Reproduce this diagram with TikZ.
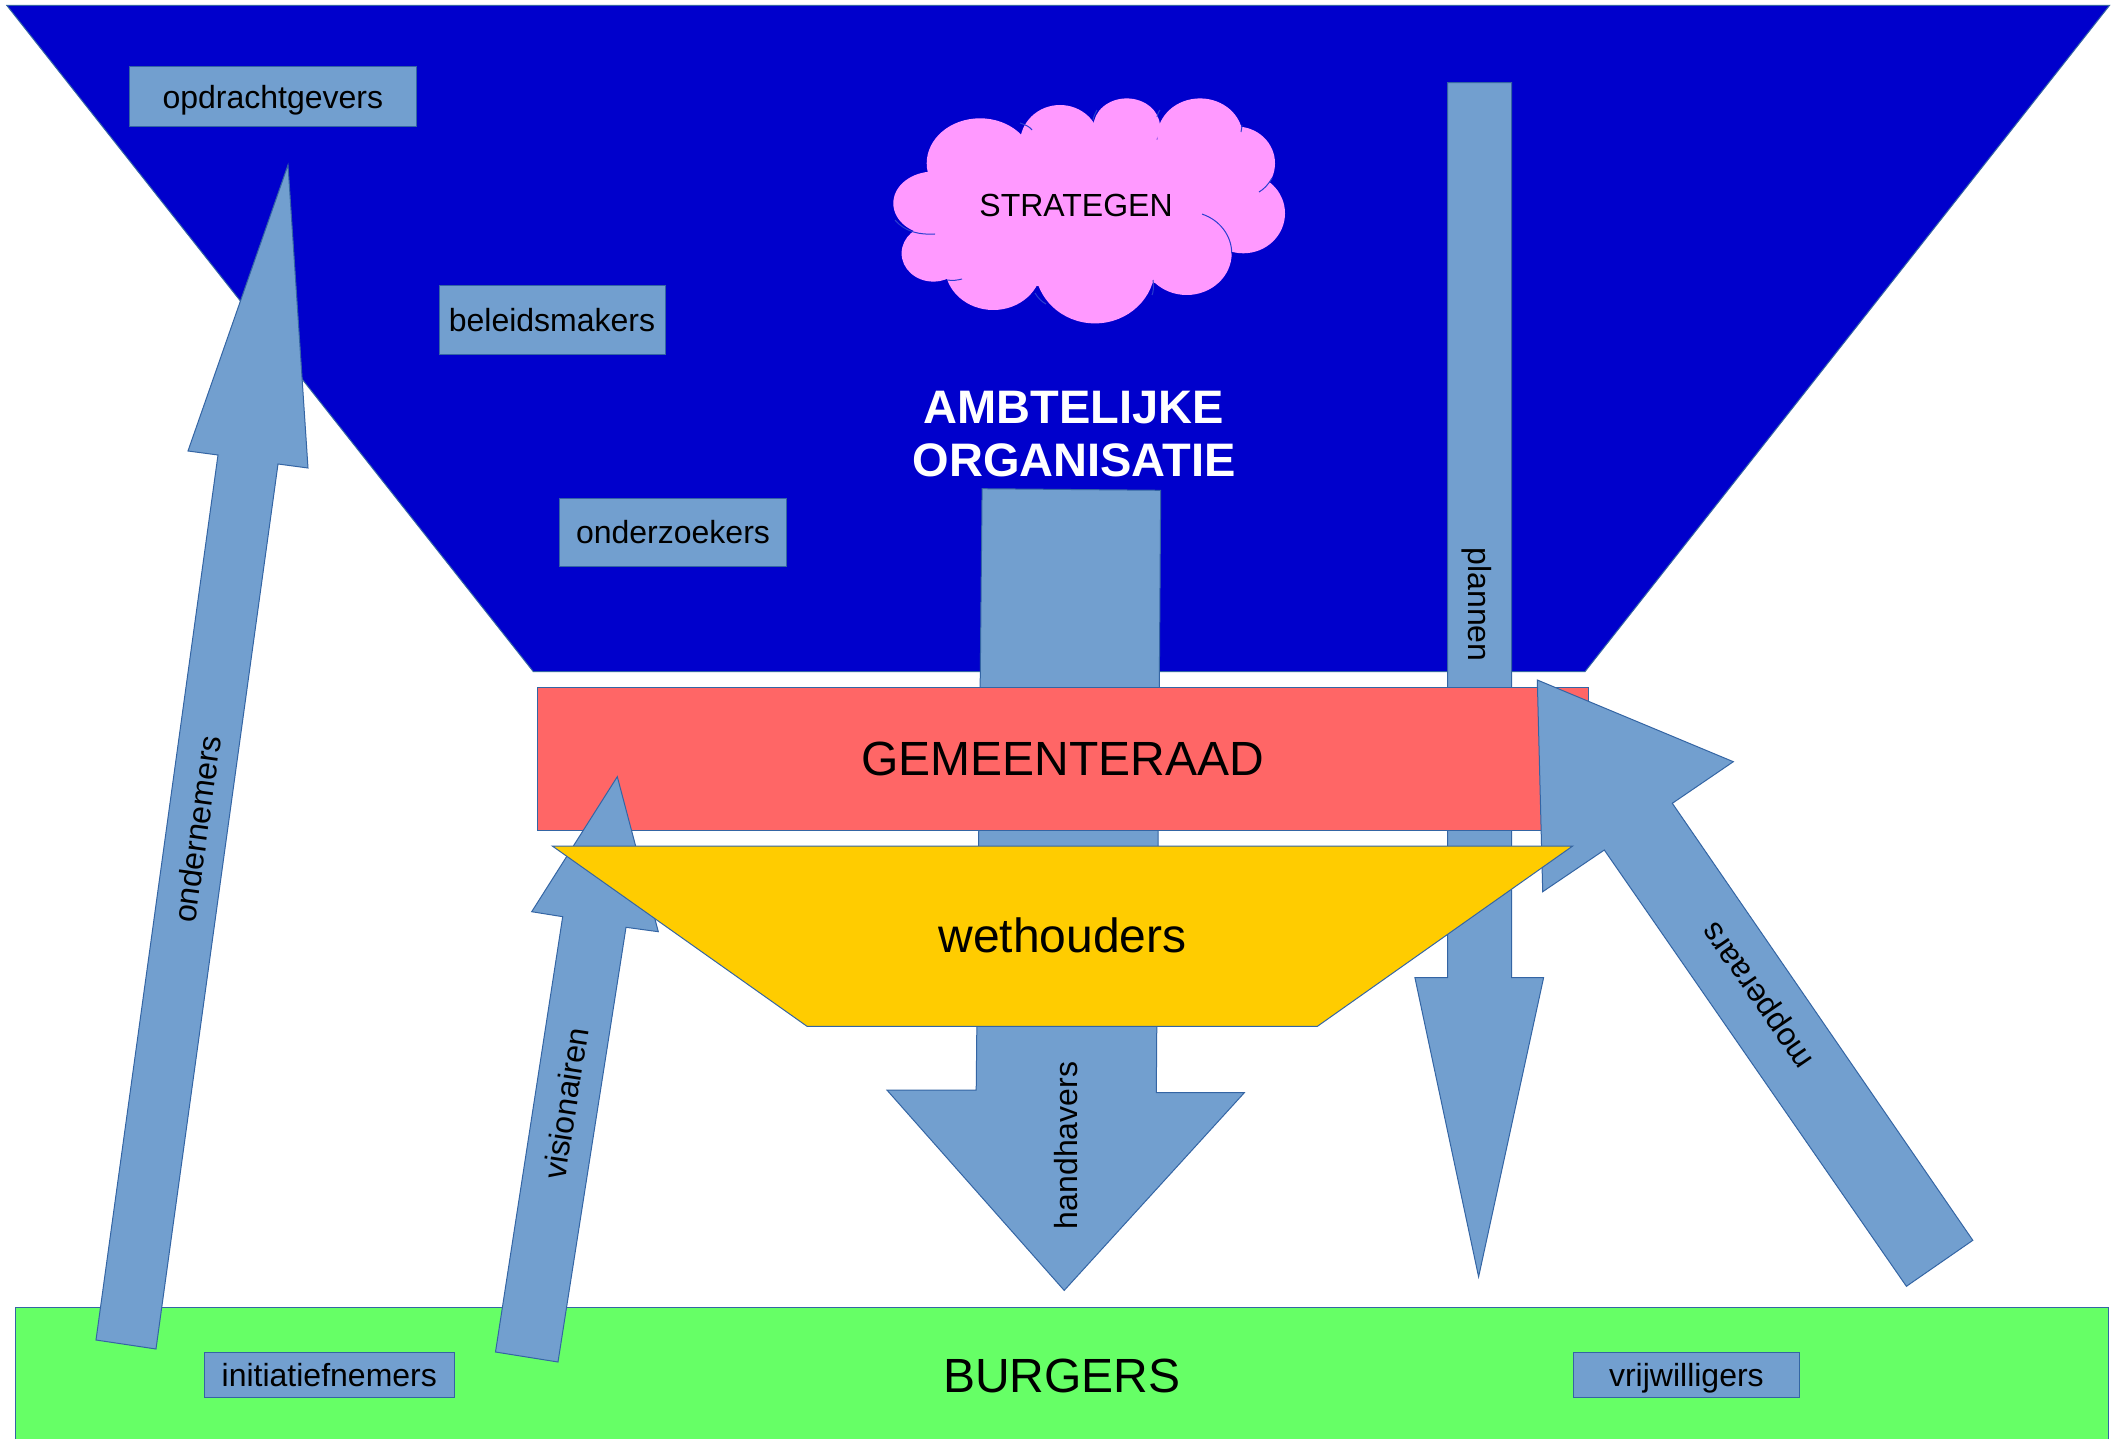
\documentclass[tikz,border=0pt]{standalone}
\usepackage{fontspec}
\setmainfont{Liberation Sans}
\definecolor{orgblue}{HTML}{0000CC}
\definecolor{arrowblue}{HTML}{729FCF}
\definecolor{edgeblue}{HTML}{3465A4}
\definecolor{raadred}{HTML}{FF6666}
\definecolor{wethyellow}{HTML}{FFCC00}
\definecolor{burgergreen}{HTML}{66FF66}
\definecolor{cloudpink}{HTML}{FF99FF}
\definecolor{cloudline}{HTML}{2A3FD0}
\tikzset{
  lbl/.style={font=\fontsize{32}{38}\selectfont, text height=28.96pt, text depth=6.78pt, inner sep=0pt},
  biglbl/.style={font=\fontsize{48}{55}\selectfont, text height=43.44pt, text depth=10.18pt, inner sep=0pt},
  rolebox/.style={lbl, draw=edgeblue, fill=arrowblue, line width=1pt, rectangle},
  blockarrow/.style={draw=edgeblue, fill=arrowblue, line width=1pt, line join=miter},
  plate/.style={draw=edgeblue, line width=1pt, line join=miter},
  orgtitle/.style={font=\fontsize{47}{54}\selectfont\bfseries, text=white, inner sep=0pt, anchor=base},
  puff/.style={fill=cloudpink},
  puffline/.style={draw=cloudline, line width=1pt},
}
\begin{document}
\begin{tikzpicture}[x=1pt,y=-1pt]
\useasboundingbox (0,0) rectangle (2123,1439);
\fill[white] (0,0) rectangle (2123,1439);

% ambtelijke organisatie (trapezium)
\draw[plate, fill=orgblue] (6.8,5.4) -- (2109.5,5.4) -- (1585,671.6) -- (533.3,671.6) -- cycle;

% role boxes in the organisation
\node[rolebox, minimum width=286.5pt, minimum height=60pt] (opdracht) at (272.8,97) {opdrachtgevers};
\node[rolebox, minimum width=226pt, minimum height=69pt] (beleid) at (552,320) {beleidsmakers};
\node[rolebox, minimum width=226.5pt, minimum height=67.7pt] (onderzoek) at (673,532.2) {onderzoekers};

% cloud (union of puffs)
\coordinate (cloud) at (1089,210.8);
\fill[puff] (cloud) ellipse[x radius=150, y radius=80];
\fill[puff] (980,163.3) ellipse[x radius=53.3, y radius=45];
\fill[puff] (1060,143.3) ellipse[x radius=40, y radius=38.3];
\fill[puff] (1126.7,126.7) ellipse[x radius=33.3, y radius=28.3];
\fill[puff] (1200,136.7) ellipse[x radius=42.7, y radius=38.3];
\fill[puff] (1236.7,163.3) ellipse[x radius=38.3, y radius=36.7];
\fill[puff] (1243.3,213.3) ellipse[x radius=41.7, y radius=40];
\fill[puff] (1186.7,253.3) ellipse[x radius=45, y radius=41.7];
\fill[puff] (1095,266.7) ellipse[x radius=60, y radius=56.7];
\fill[puff] (993.3,266.7) ellipse[x radius=48.3, y radius=43.3];
\fill[puff] (933.3,253.3) ellipse[x radius=31.7, y radius=28.3];
\fill[puff] (933.3,203.3) ellipse[x radius=40, y radius=31.7];
% inner puff outlines
\draw[puffline] (1202.1,214.1) arc[start angle=-70, end angle=0, x radius=45, y radius=41.7];
\draw[puffline] (895,220) .. controls (905,232) and (920,235) .. (935,234);
\draw[puffline] (1272,178) .. controls (1268,185) and (1264,189) .. (1259,192);
\draw[puffline] (1153,280) .. controls (1154,288) and (1153,293) .. (1152,295);
\draw[puffline] (1035,293) .. controls (1038,298) and (1042,302) .. (1046,304);
\draw[puffline] (947,280) .. controls (953,281) and (958,280) .. (962,279);
\draw[puffline] (1020,123) .. controls (1026,125) and (1030,127) .. (1032,130);
\draw[puffline] (1093,120) .. controls (1094,115) and (1096,112) .. (1097,110);
\draw[puffline] (1157,117) .. controls (1158,113) and (1159,111) .. (1160,110);
\draw[puffline] (1241,132) .. controls (1242,127) and (1242,125) .. (1242,125);
\node[lbl] (strategen) at (1076,205) {STRATEGEN};

% title
\node[orgtitle] (amb1) at (1074,423.3) {AMBTELIJKE};
\node[orgtitle] (amb2) at (1074,476.7) {ORGANISATIE};

% handhavers arrow (down)
\draw[blockarrow] (982.1,488.7) -- (1160.7,490.3) -- (1156.3,1092.7) -- (1244.3,1092.7)
  -- (1064.2,1290.4) -- (886.9,1090) -- (976.2,1090) -- cycle;

% plannen arrow (down)
\draw[blockarrow] (1447.5,82.6) -- (1511.5,82.6) -- (1511.5,977.6) -- (1543.6,977.6)
  -- (1478.6,1276.8) -- (1414.9,977.6) -- (1447.5,977.6) -- cycle;

% burgers
\node[plate, fill=burgergreen, biglbl, rectangle, minimum width=2092.4pt, minimum height=138pt] (burgers) at (1061.8,1376) {BURGERS};
\node[rolebox, minimum width=250pt, minimum height=45pt] (initiatief) at (329.3,1375) {initiatiefnemers};
\node[rolebox, minimum width=226pt, minimum height=45pt] (vrijwillig) at (1686.4,1375) {vrijwilligers};

% ondernemers arrow (up)
\draw[blockarrow] (96,1340) -- (156,1349) -- (278,464) -- (308,468) -- (288,165)
  -- (188,451) -- (218,455) -- cycle;

% gemeenteraad
\node[plate, fill=raadred, biglbl, rectangle, minimum width=1051pt, minimum height=143.4pt] (raad) at (1062.5,759) {GEMEENTERAAD};

% visionairen arrow (up)
\draw[blockarrow] (495.5,1352) -- (558,1362) -- (626,927.3) -- (658.3,931.7) -- (617.3,776.7)
  -- (531.7,911.7) -- (562.7,916.7) -- cycle;

% mopperaars arrow (up-left)
\draw[blockarrow] (1906.4,1286.3) -- (1972.8,1240.3) -- (1672.3,803.3) -- (1733.3,761.7)
  -- (1537.3,680) -- (1542.7,891.7) -- (1604.3,850) -- cycle;

% wethouders
\draw[plate, fill=wethyellow] (552.3,846) -- (1572.7,846) -- (1317.4,1026.3) -- (807,1026.3) -- cycle;
\node[biglbl] (wethouders) at (1062.5,936.3) {wethouders};

% arrow labels
\node[lbl, rotate=82.1] (lond) at (197.5,829) {ondernemers};
\node[lbl, rotate=81.2] (lvis) at (566.2,1103.5) {visionairen};
\node[lbl, rotate=90] (lhand) at (1066.5,1145.5) {handhavers};
\node[lbl, rotate=-90] (lplan) at (1479.5,604.5) {plannen};
\node[lbl, rotate=124.6] (lmop) at (1756,997) {mopperaars};
\end{tikzpicture}
\end{document}
